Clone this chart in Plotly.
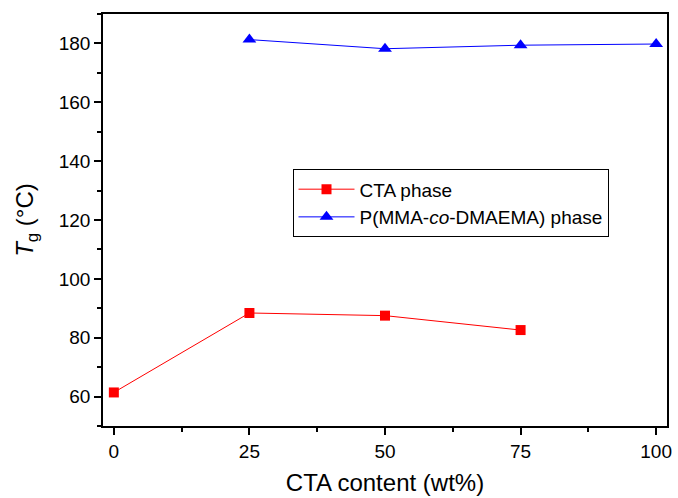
import plotly.graph_objects as go

cta_x = [0, 25, 50, 75]
cta_y = [61.4, 88.4, 87.5, 82.6]
pm_x = [25, 50, 75, 100]
pm_y = [181.3, 178.2, 179.4, 179.8]

x_ticks = [0, 25, 50, 75, 100]
y_ticks = [60, 80, 100, 120, 140, 160, 180]

FONT = "Arial, Liberation Sans"

fig = go.Figure()
fig.add_trace(go.Scatter(x=cta_x, y=cta_y, mode="lines+markers", name="CTA phase",
                         line=dict(color="#ff0000", width=1),
                         marker=dict(symbol="square", size=10, color="#ff0000")))
fig.add_trace(go.Scatter(x=pm_x, y=pm_y, mode="lines+markers",
                         name="P(MMA-<i>co</i>-DMAEMA) phase",
                         line=dict(color="#0000ff", width=1),
                         marker=dict(symbol="triangle-up", size=12, color="#0000ff")))

axis_common = dict(showline=True, linecolor="black", linewidth=1.5, mirror=True,
                   showgrid=False, zeroline=False, ticks="outside", ticklen=7,
                   tickwidth=1.5, tickcolor="black",
                   tickfont=dict(family=FONT, size=19, color="black"))

fig.update_xaxes(range=[-2, 102], tickvals=x_ticks,
                 minor=dict(ticks="outside", ticklen=4, tickwidth=1.5, dtick=12.5, tick0=0, tickcolor="black"),
                 title=dict(text="CTA content (wt%)", font=dict(family=FONT, size=24, color="black"), standoff=14),
                 **axis_common)
fig.update_yaxes(range=[50, 190], tickvals=y_ticks,
                 minor=dict(ticks="outside", ticklen=4, tickwidth=1.5, dtick=10, tick0=0, tickcolor="black"),
                 title=dict(text="<i>T</i><sub>g</sub> (°C)", font=dict(family=FONT, size=24, color="black"), standoff=18),
                 **axis_common)

fig.update_layout(width=678, height=498, margin=dict(l=103, r=6, t=14, b=70),
                  plot_bgcolor="white", paper_bgcolor="white",
                  legend=dict(x=0.336, y=0.623, xanchor="left", yanchor="top",
                              bordercolor="black", borderwidth=1, bgcolor="white",
                              font=dict(family=FONT, size=19, color="black"),
                              tracegroupgap=0, itemwidth=56))
fig.write_html("out.html")
